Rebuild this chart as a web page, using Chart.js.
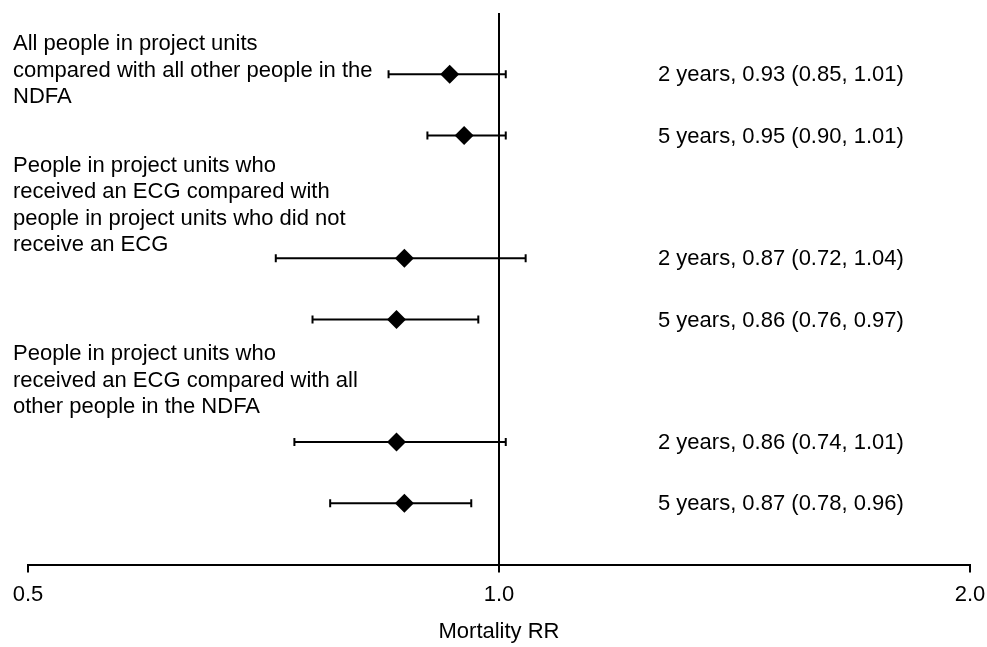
<!DOCTYPE html>
<html>
<head>
<meta charset="utf-8">
<script src="https://cdn.jsdelivr.net/npm/chart.js@4.4.1/dist/chart.umd.min.js"></script>
<style>
  html, body { margin: 0; padding: 0; background: #fff; }
  #wrap { width: 987px; height: 647px; position: relative; }
</style>
</head>
<body>
<div id="wrap"><canvas id="chart"></canvas></div>
<script>
// Comparison groups (header text, one entry per line)
const groupHeaders = [
  ['All people in project units', 'compared with all other people in the', 'NDFA'],
  ['People in project units who', 'received an ECG compared with', 'people in project units who did not', 'receive an ECG'],
  ['People in project units who', 'received an ECG compared with all', 'other people in the NDFA']
];

// One entry per estimate row
const rowGroup  = [0, 0, 1, 1, 2, 2];
const rowYears  = [2, 5, 2, 5, 2, 5];
const rowSlot   = [0, 1, 3, 4, 6, 7];
const estimates = [0.93, 0.95, 0.87, 0.86, 0.86, 0.87];
const ciLower   = [0.85, 0.90, 0.72, 0.76, 0.74, 0.78];
const ciUpper   = [1.01, 1.01, 1.04, 0.97, 1.01, 0.96];

const xTicks = [0.5, 1.0, 2.0];
const xTitle = 'Mortality RR';

const FONT = '"Liberation Sans", Arial, sans-serif';
Chart.defaults.font.family = FONT;
Chart.defaults.font.size = 22;
Chart.defaults.color = '#000';

// layout of the free text (in y-axis slots)
const headerFirstSlot = [-0.49, 1.49, 4.57];
const headerLineHeight = 26.5;

const labelsPlugin = {
  id: 'forestLabels',
  afterDraw(chart) {
    const { ctx, scales: { y } } = chart;
    ctx.save();
    ctx.font = '22px ' + FONT;
    ctx.fillStyle = '#000';
    ctx.textBaseline = 'middle';
    ctx.textAlign = 'left';
    groupHeaders.forEach((lines, g) => {
      const top = y.getPixelForValue(headerFirstSlot[g]);
      lines.forEach((t, i) => ctx.fillText(t, 13, top + i * headerLineHeight));
    });
    rowSlot.forEach((s, i) => {
      const txt = rowYears[i] + ' years, ' + estimates[i].toFixed(2) +
        ' (' + ciLower[i].toFixed(2) + ', ' + ciUpper[i].toFixed(2) + ')';
      ctx.fillText(txt, 658, y.getPixelForValue(s) + 1);
    });
    ctx.restore();
  }
};

const ciSets = rowSlot.map((s, i) => ({
  type: 'line',
  data: [{ x: ciLower[i], y: s }, { x: ciUpper[i], y: s }],
  borderColor: '#000',
  borderWidth: 2,
  pointStyle: 'line',
  pointRotation: 90,
  pointRadius: 4,
  pointBorderWidth: 2,
  pointBorderColor: '#000',
  fill: false,
  order: 2
}));

new Chart(document.getElementById('chart'), {
  type: 'scatter',
  data: {
    datasets: [
      {
        data: rowSlot.map((s, i) => ({ x: estimates[i], y: s })),
        pointStyle: 'rectRot',
        pointRadius: 9.5,
        backgroundColor: '#000',
        borderColor: '#000',
        borderWidth: 0,
        order: 1
      },
      ...ciSets
    ]
  },
  options: {
    responsive: true,
    maintainAspectRatio: false,
    animation: false,
    layout: { padding: { left: 28, right: 17, top: 13, bottom: 4 } },
    plugins: {
      legend: { display: false },
      tooltip: { enabled: false }
    },
    scales: {
      x: {
        type: 'logarithmic',
        min: 0.5,
        max: 2.0,
        afterBuildTicks: s => { s.ticks = xTicks.map(v => ({ value: v })); },
        // keep the end labels from pushing the plot area inwards
        afterFit: s => { s.paddingLeft = 0; s.paddingRight = 0; },
        ticks: {
          callback: v => Number(v).toFixed(1),
          padding: 9,
          maxRotation: 0,
          autoSkip: false
        },
        grid: {
          drawOnChartArea: true,
          color: c => (c.tick && c.tick.value === 1 ? '#000' : 'rgba(0,0,0,0)'),
          tickColor: '#000',
          lineWidth: 2,
          tickLength: 8
        },
        border: { display: true, color: '#000', width: 2 },
        title: {
          display: true,
          text: xTitle,
          font: { size: 22, lineHeight: 1 },
          padding: { top: 4, bottom: 0 }
        }
      },
      y: {
        type: 'linear',
        min: -1,
        max: 8,
        reverse: true,
        display: false
      }
    }
  },
  plugins: [labelsPlugin]
});
</script>
</body>
</html>
